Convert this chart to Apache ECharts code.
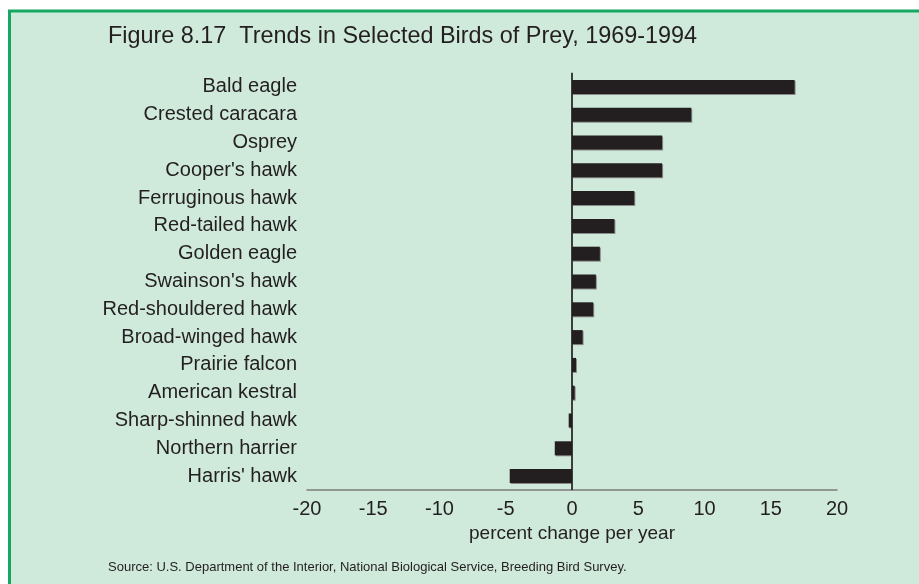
<!DOCTYPE html>
<html>
<head>
<meta charset="utf-8">
<script src="https://cdn.jsdelivr.net/npm/echarts@6/dist/echarts.min.js"></script>
<style>
  html, body { margin: 0; padding: 0; background: #ffffff; }
  #main { width: 919px; height: 584px; }
</style>
</head>
<body>
<div id="main"></div>
<script>
// species, top to bottom as in the figure
var birds = ['Bald eagle', 'Crested caracara', 'Osprey', "Cooper's hawk", 'Ferruginous hawk',
    'Red-tailed hawk', 'Golden eagle', "Swainson's hawk", 'Red-shouldered hawk', 'Broad-winged hawk',
    'Prairie falcon', 'American kestral', 'Sharp-shinned hawk', 'Northern harrier', "Harris' hawk"];
// percent change per year, 1969-1994
var trend = [16.8, 9.0, 6.8, 6.8, 4.7, 3.2, 2.1, 1.8, 1.6, 0.8, 0.3, 0.2, -0.25, -1.3, -4.7];
var xTicks = [-20, 20, 5];   // min, max, interval

var font = 'Liberation Sans, Arial, sans-serif';
var ink = '#231f20';

var myChart = echarts.init(document.getElementById('main'));

var option = {
    backgroundColor: '#ffffff',
    animation: false,
    graphic: [
        {
            type: 'rect',
            z: -10,
            shape: { x: 9.5, y: 11, width: 1000, height: 1000 },
            style: { fill: '#cfe9db', stroke: '#16a862', lineWidth: 3 }
        },
        {
            type: 'text',
            left: 108, top: 25,
            style: {
                text: 'Figure 8.17  Trends in Selected Birds of Prey, 1969-1994',
                font: '23.4px ' + font,
                fill: ink
            }
        },
        {
            type: 'text',
            left: 108, top: 561,
            style: {
                text: 'Source: U.S. Department of the Interior, National Biological Service, Breeding Bird Survey.',
                font: '13px ' + font,
                fill: ink
            }
        }
    ],
    grid: { left: 307, right: 82, top: 73, bottom: 94, containLabel: false },
    xAxis: {
        type: 'value',
        min: xTicks[0],
        max: xTicks[1],
        interval: xTicks[2],
        name: 'percent change per year',
        nameLocation: 'middle',
        nameGap: 33,
        nameTextStyle: { fontFamily: font, fontSize: 19, color: ink },
        axisLine: { show: true, lineStyle: { color: '#7d7d7d', width: 1.5 } },
        axisTick: { show: false },
        splitLine: { show: false },
        axisLabel: { fontFamily: font, fontSize: 20, color: ink, margin: 9 }
    },
    yAxis: {
        type: 'category',
        data: birds,
        inverse: true,
        axisLine: { show: true, lineStyle: { color: '#7d7d7d', width: 1.5 } },
        axisTick: { show: false },
        axisLabel: { fontFamily: font, fontSize: 20, color: ink, margin: 10 }
    },
    series: [{
        type: 'bar',
        data: trend,
        barWidth: 14,
        itemStyle: {
            color: ink,
            shadowColor: '#8a8a8a',
            shadowOffsetX: 1,
            shadowOffsetY: 1,
            shadowBlur: 0
        },
        markLine: {
            silent: true,
            symbol: 'none',
            label: { show: false },
            lineStyle: { color: ink, width: 1.5, type: 'solid' },
            data: [{ xAxis: 0 }]
        }
    }]
};

myChart.setOption(option);
</script>
</body>
</html>
